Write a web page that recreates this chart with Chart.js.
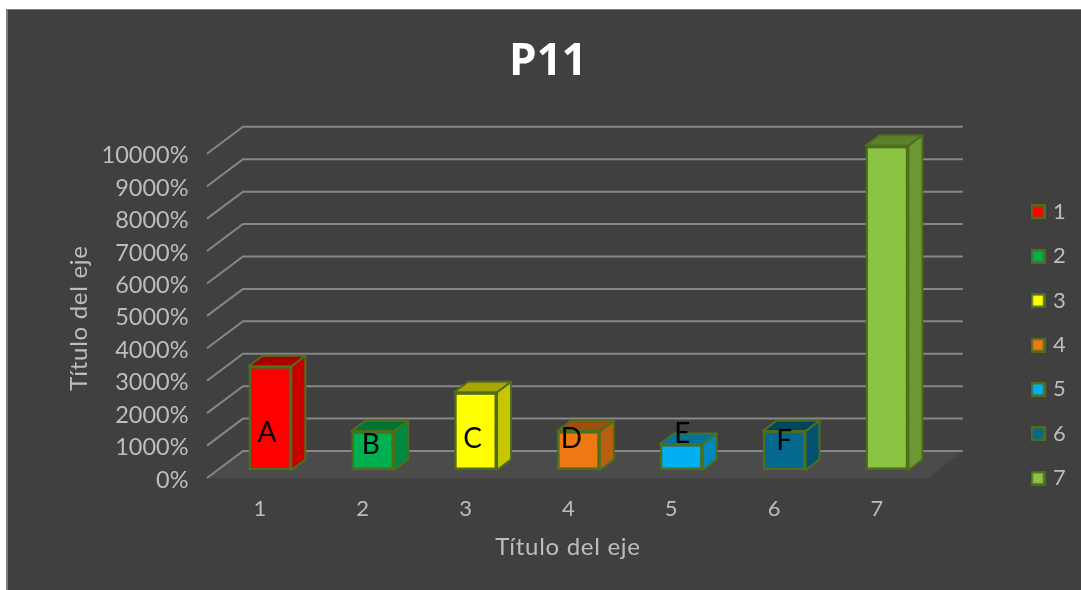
<!DOCTYPE html>
<html>
<head>
<meta charset="utf-8">
<title>P11</title>
<script src="https://cdn.jsdelivr.net/npm/chart.js@4/dist/chart.umd.min.js"></script>
<style>
    html, body { margin: 0; background: #fff; overflow: hidden; }
    #panel { position: absolute; left: 6px; top: 9px; right: 0; bottom: 0; background: #404040; border-left: 2px solid #7f7f7f; border-top: 1px solid #7f7f7f; }
    #chart { position: absolute; left: 0; top: 0; }
</style>
</head>
<body>
<div id="panel"></div>
<canvas id="chart" width="1081" height="590"></canvas>
<script>
const categories = ["1", "2", "3", "4", "5", "6", "7"];
const values = [3200, 1200, 2400, 1200, 800, 1200, 10000];
const barLetters = ["A", "B", "C", "D", "E", "F"];
const letterLevels = [1140, 770, 960, 960, 1110, 890];
const barColors = ["#ff0000", "#00b050", "#ffff00", "#ee7814", "#00b0f0", "#05688f", "#8bc342"];

const FONT = "Lato, 'Open Sans', sans-serif";
const LABEL_COLOR = "#bdbdbd";
const EDGE_COLOR = "#4f6e1c";
const depth = { x: 14, y: 10.5 };        // bar depth
const wall = { x: 36, y: 27 };           // floor and wall offset from the bar plane
const letterNudge = [-3, -2, -3, -7, 1, 0];

function shade(hex, f) {
    const n = parseInt(hex.slice(1, 7), 16);
    const r = Math.round((n >> 16) * f);
    const g = Math.round(((n >> 8) & 255) * f);
    const b = Math.round((n & 255) * f);
    return `rgb(${r},${g},${b})`;
}

function poly(ctx, pts) {
    ctx.beginPath();
    pts.forEach((p, i) => i ? ctx.lineTo(p[0], p[1]) : ctx.moveTo(p[0], p[1]));
    ctx.closePath();
}

// Legend swatch as a small canvas, so it keeps its size with a narrow text gap
function makeSwatch(color) {
    const c = document.createElement("canvas");
    c.width = 15;
    c.height = 15;
    const ctx = c.getContext("2d");
    ctx.fillStyle = EDGE_COLOR;
    ctx.fillRect(0, 0, 15, 15);
    ctx.fillStyle = color;
    ctx.fillRect(2.5, 2.5, 10, 10);
    return c;
}

// Floor, back wall lines and the 3D faces of the bars, behind the native bars
const wallPlugin = {
    id: "wall3d",
    beforeDatasetsDraw(chart) {
        const ctx = chart.ctx;
        const area = chart.chartArea;
        const y = chart.scales.y;
        const frontLeft = area.left - 11.5;
        const frontRight = area.right - 9.5;
        const frontY = 8;
        const backLeft = frontLeft + wall.x;
        const backRight = frontRight + wall.x - 2;
        const backY = frontY - wall.y;

        ctx.save();
        ctx.fillStyle = "#4b4b4b";
        poly(ctx, [[frontLeft, area.bottom + frontY], [backLeft, area.bottom + backY], [backRight, area.bottom + backY], [frontRight, area.bottom + frontY]]);
        ctx.fill();

        ctx.strokeStyle = "#878787";
        ctx.lineWidth = 2;
        y.ticks.forEach(t => {
            const py = y.getPixelForValue(t.value);
            ctx.beginPath();
            ctx.moveTo(frontLeft, py + frontY);
            ctx.lineTo(backLeft, py + backY);
            ctx.lineTo(backRight, py + backY);
            ctx.stroke();
        });

        chart.getDatasetMeta(0).data.forEach((bar, i) => {
            const right = bar.x + bar.width / 2;
            const left = bar.x - bar.width / 2;
            ctx.lineWidth = 2;
            ctx.lineJoin = "round";
            ctx.strokeStyle = EDGE_COLOR;
            ctx.fillStyle = shade(barColors[i], 0.78);
            poly(ctx, [[right, bar.y], [right + depth.x, bar.y - depth.y], [right + depth.x, bar.base - depth.y], [right, bar.base]]);
            ctx.fill();
            ctx.stroke();
            ctx.fillStyle = shade(barColors[i], 0.66);
            poly(ctx, [[left, bar.y], [left + depth.x, bar.y - depth.y], [right + depth.x, bar.y - depth.y], [right, bar.y]]);
            ctx.fill();
            ctx.stroke();
        });
        ctx.restore();
    },
    // Letters on the bars and the two axis titles
    afterDraw(chart) {
        const ctx = chart.ctx;
        const y = chart.scales.y;
        const bars = chart.getDatasetMeta(0).data;
        ctx.save();
        ctx.textAlign = "center";
        ctx.textBaseline = "middle";
        ctx.fillStyle = "#000";
        ctx.font = `28px ${FONT}`;
        barLetters.forEach((letter, i) => {
            ctx.fillText(letter, bars[i].x + letterNudge[i], y.getPixelForValue(letterLevels[i]));
        });
        ctx.fillStyle = LABEL_COLOR;
        ctx.font = `24px ${FONT}`;
        ctx.letterSpacing = "0.7px";
        ctx.fillText("Título del eje", 568, 547);
        ctx.translate(79, 318);
        ctx.rotate(-Math.PI / 2);
        ctx.fillText("Título del eje", 0, 0);
        ctx.restore();
    },
    afterLayout(chart) {
        const legend = chart.legend;
        const w = legend.right - legend.left;
        legend.left = 1034 - 22.4;
        legend.right = legend.left + w;
        legend.top += 50;
        legend.bottom += 50;
    }
};

new Chart(document.getElementById("chart"), {
    type: "bar",
    data: {
        labels: categories,
        datasets: [{
            data: values,
            backgroundColor: barColors,
            borderColor: EDGE_COLOR,
            borderWidth: 2.5,
            borderSkipped: false,
            categoryPercentage: 1,
            barPercentage: 0.417
        }]
    },
    options: {
        responsive: false,
        animation: false,
        layout: { padding: { left: 93.5, right: 78.5 } },
        scales: {
            x: {
                grid: { display: false },
                border: { display: false },
                ticks: { color: LABEL_COLOR, font: { family: FONT, size: 22 }, labelOffset: -10, padding: 18, maxRotation: 0 },
                afterFit: s => { s.height = 120; }
            },
            y: {
                min: 0,
                max: 10000,
                grid: { display: false },
                border: { display: false },
                ticks: { stepSize: 1000, color: LABEL_COLOR, font: { family: FONT, size: 23.5 }, labelOffset: 10, padding: 22, callback: v => v + "%" },
                afterFit: s => { s.width = 125; }
            }
        },
        plugins: {
            title: {
                display: true,
                text: "P11",
                color: "#fff",
                font: { family: "'Open Sans', sans-serif", size: 44, weight: "bold" },
                padding: { top: 36, bottom: 57 }
            },
            legend: {
                position: "right",
                labels: {
                    color: LABEL_COLOR,
                    font: { family: FONT, size: 22 },
                    usePointStyle: true,
                    pointStyleWidth: 8,
                    boxHeight: 14,
                    padding: 22.4,
                    generateLabels: () => categories.map((c, i) => ({
                        text: c,
                        fillStyle: barColors[i],
                        strokeStyle: EDGE_COLOR,
                        lineWidth: 0,
                        pointStyle: makeSwatch(barColors[i]),
                        rotation: 0,
                        fontColor: LABEL_COLOR,
                        index: i
                    }))
                }
            },
            tooltip: { enabled: false }
        }
    },
    plugins: [wallPlugin]
});
</script>
</body>
</html>
